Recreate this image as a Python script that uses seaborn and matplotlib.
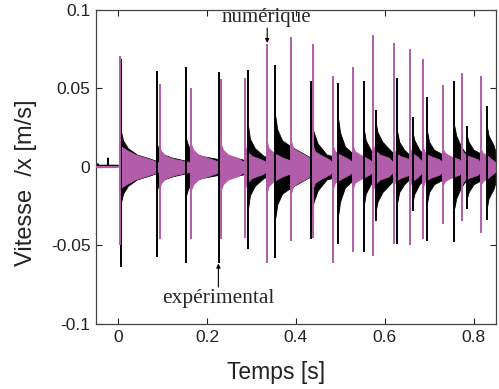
import matplotlib
matplotlib.use("Agg")
import matplotlib.pyplot as plt
import seaborn as sns
import numpy as np

# ---------------- data ----------------
# experimental signal (black): impact times, spike extremes and decay envelope
exp_t    = [0.0068, 0.0864, 0.153, 0.227, 0.2926, 0.354, 0.434, 0.4956, 0.5533, 0.580,
            0.6287, 0.663, 0.696, 0.757, 0.785, 0.830]
exp_hi   = [0.069, 0.061, 0.0637, 0.0605, 0.0616, 0.0647, 0.0545, 0.0537, 0.0545, 0.036,
            0.057, 0.032, 0.0445, 0.055, 0.026, 0.039]
exp_lo   = [-0.064, -0.0575, -0.061, -0.061, -0.0524, -0.058, -0.046, -0.049, -0.054, -0.0345,
            -0.049, -0.028, -0.047, -0.048, -0.027, -0.034]
exp_fin  = [0.022, 0.015, 0.018, 0.016, 0.026, 0.032, 0.030, 0.030, 0.024, 0.028,
            0.022, 0.022, 0.022, 0.026, 0.020, 0.026]
exp_e1   = [0.017, 0.012, 0.014, 0.012, 0.018, 0.024, 0.024, 0.022, 0.017, 0.022,
            0.016, 0.017, 0.016, 0.020, 0.016, 0.020]
exp_e2   = [0.012, 0.008, 0.009, 0.008, 0.012, 0.017, 0.015, 0.013, 0.011, 0.016,
            0.011, 0.011, 0.011, 0.013, 0.011, 0.014]
exp_e3   = [0.008, 0.006, 0.007, 0.006, 0.007, 0.013, 0.008, 0.008, 0.007, 0.010,
            0.007, 0.007, 0.008, 0.008, 0.008, 0.011]
exp_tail = [0.004, 0.004, 0.005, 0.004, 0.005, 0.006, 0.006, 0.005, 0.006, 0.007,
            0.006, 0.006, 0.006, 0.008, 0.006, 0.010]

# numerical signal (magenta)
num_t    = [0.003, 0.093, 0.165, 0.232, 0.286, 0.335, 0.390, 0.439, 0.484, 0.529,
            0.574, 0.620, 0.657, 0.687, 0.732, 0.774, 0.817]
num_hi   = [0.071, 0.053, 0.050, 0.056, 0.057, 0.0786, 0.0826, 0.0786, 0.058, 0.0637,
            0.084, 0.079, 0.075, 0.069, 0.052, 0.060, 0.058]
num_lo   = [-0.050, -0.046, -0.046, -0.046, -0.045, -0.061, -0.047, -0.045, -0.061, -0.054,
            -0.057, -0.049, -0.050, -0.046, -0.036, -0.0345, -0.042]
num_fin  = [0.016, 0.013, 0.014, 0.014, 0.013, 0.016, 0.016, 0.013, 0.013, 0.013,
            0.014, 0.012, 0.012, 0.012, 0.011, 0.011, 0.011]
num_e1   = [0.013, 0.010, 0.011, 0.011, 0.010, 0.012, 0.012, 0.010, 0.010, 0.010,
            0.011, 0.009, 0.009, 0.009, 0.009, 0.009, 0.009]
num_e2   = [0.011, 0.007, 0.008, 0.008, 0.007, 0.009, 0.010, 0.008, 0.008, 0.008,
            0.008, 0.007, 0.007, 0.007, 0.007, 0.007, 0.007]
num_e3   = [0.008, 0.005, 0.006, 0.006, 0.005, 0.006, 0.007, 0.005, 0.005, 0.005,
            0.006, 0.005, 0.005, 0.005, 0.005, 0.005, 0.005]
num_tail = [0.003, 0.003, 0.003, 0.003, 0.003, 0.004, 0.004, 0.003, 0.003, 0.003,
            0.003, 0.003, 0.003, 0.003, 0.003, 0.003, 0.003]

# signal before the first impact
pre_t   = [-0.05, -0.047, -0.046, -0.045, -0.024, -0.023, -0.022, 0.0]
exp_pre = [0.001, 0.001, 0.002, 0.001, 0.001, 0.0056, 0.001, 0.001]
num_pre = [-0.0003, -0.0003, -0.0003, -0.0003, -0.0003, -0.0003, -0.0003, -0.0003]

t_end = 0.85
x_ticks = [0, 0.2, 0.4, 0.6, 0.8]
x_ticklabels = ["0", "0.2", "0.4", "0.6", "0.8"]
y_ticks = [-0.1, -0.05, 0, 0.05, 0.1]
y_ticklabels = ["-0.1", "-0.05", "0", "0.05", "0.1"]

BLACK = "#000000"
MAGENTA = "#B25DAA"

# ---------------- figure ----------------
sns.set_theme(style="ticks")
plt.rcParams["font.family"] = ["Liberation Sans", "DejaVu Sans"]
plt.rcParams["axes.unicode_minus"] = False

fig = plt.figure(figsize=(4.99, 3.89), dpi=100)
ax = fig.add_axes([0.1924, 0.1671, 0.801, 0.8072])


def envelope(ts, fin, e1, e2, e3, tail, end):
    offs = [0.0, 0.004, 0.015, 0.035]
    xs, up = [], []
    for i, t in enumerate(ts):
        nxt = ts[i + 1] if i + 1 < len(ts) else end
        for o, v in zip(offs, [fin[i], e1[i], e2[i], e3[i]]):
            if t + o < nxt - 0.0015:
                xs.append(t + o)
                up.append(v)
        xs.append(nxt - 0.0008)
        up.append(tail[i])
    xs = np.array(xs)
    up = np.array(up)
    return xs, up, -up


# pre-trigger traces
sns.lineplot(x=pre_t, y=exp_pre, ax=ax, color=BLACK, lw=1.0, zorder=2)
sns.lineplot(x=pre_t, y=num_pre, ax=ax, color=MAGENTA, lw=1.6, zorder=3)

# black band
bx, bu, bd = envelope(exp_t, exp_fin, exp_e1, exp_e2, exp_e3, exp_tail, t_end)
ax.fill_between(bx, bd, bu, color=BLACK, lw=0.6, edgecolor=BLACK, zorder=2)
# magenta band
mx, mu, md = envelope(num_t, num_fin, num_e1, num_e2, num_e3, num_tail, t_end)
ax.fill_between(mx, md, mu, color=MAGENTA, lw=0.6, edgecolor=MAGENTA, zorder=3)
# spikes
ax.vlines(exp_t, exp_lo, exp_hi, color=BLACK, lw=1.4, zorder=4)
ax.vlines(num_t, num_lo, num_hi, color=MAGENTA, lw=1.4, zorder=5)

ax.set_xlim(-0.05, t_end)
ax.set_ylim(-0.1, 0.1)
ax.set_xticks(x_ticks)
ax.set_xticklabels(x_ticklabels)
ax.set_yticks(y_ticks)
ax.set_yticklabels(y_ticklabels)
ax.tick_params(direction="in", length=4, width=0.8, top=True, right=True,
               labelsize=12.5, colors="#222222", pad=4)
for s in ax.spines.values():
    s.set_visible(True)
    s.set_color("#444444")
    s.set_linewidth(0.9)

ax.set_xlabel("Temps [s]", fontsize=16.5, color="#222222")
ax.xaxis.set_label_coords(0.45, -0.153)
ax.xaxis.label.set_verticalalignment("center")
ax.set_ylabel("Vitesse  /x [m/s]", fontsize=17, color="#222222")
ax.yaxis.set_label_coords(-0.174, 0.449)
ax.yaxis.label.set_verticalalignment("center")

# annotations
serif = ["Liberation Serif", "DejaVu Serif"]
ax.text(0.334, 0.0955, "numérique", family=serif, fontsize=15,
        ha="center", va="center", zorder=6)
ax.annotate("", xy=(0.3355, 0.0790), xytext=(0.3355, 0.0885),
            arrowprops=dict(arrowstyle="-|>", color="black", lw=0.8,
                            mutation_scale=6, shrinkA=0, shrinkB=0), zorder=6)
ax.text(0.2245, -0.0837, "expérimental", family=serif, fontsize=15.5,
        ha="center", va="center", zorder=6)
ax.annotate("", xy=(0.2256, -0.0615), xytext=(0.2256, -0.0765),
            arrowprops=dict(arrowstyle="-|>", color="black", lw=0.8,
                            mutation_scale=6, shrinkA=0, shrinkB=0), zorder=6)

fig.savefig("out.png", dpi=100)
